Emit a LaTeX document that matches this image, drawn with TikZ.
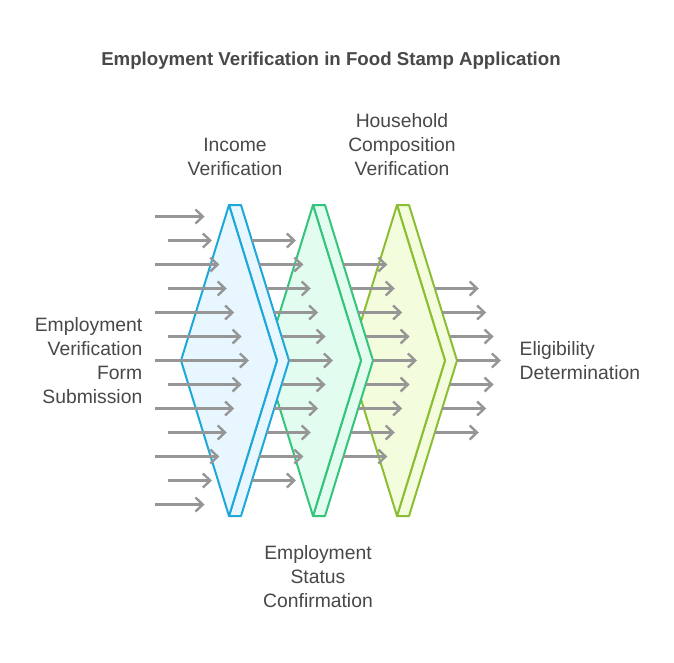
\documentclass[tikz,border=0pt]{standalone}
\usepackage{fontspec}
\setmainfont{Liberation Sans}
\usetikzlibrary{arrows.meta,positioning}

\definecolor{arrowgray}{RGB}{150,150,150}
\definecolor{textgray}{RGB}{72,72,72}
\definecolor{incomeline}{RGB}{30,168,218}
\definecolor{incomefill}{RGB}{232,247,255}
\definecolor{statusline}{RGB}{52,196,124}
\definecolor{statusfill}{RGB}{226,253,240}
\definecolor{houseline}{RGB}{140,190,52}
\definecolor{housefill}{RGB}{243,253,221}

% one layer: #1 top x, #2 fill, #3 line
\newcommand{\layer}[3]{%
  \draw[layer, draw=#3, fill=#2] (#1,205) -- ++(12,0) -- ++(48,155.5)
    -- ++(-48,155.5) -- ++(-12,0) -- ++(48,-155.5) -- cycle;
  \draw[layer, draw=#3, fill=#2] (#1,205) -- ++(-48,155.5)
    -- ++(48,155.5) -- ++(48,-155.5) -- cycle;
}

\begin{document}
\begin{tikzpicture}[x=0.75pt, y=-0.75pt,
    layer/.style={line width=1.5pt, line join=round},
    flow/.style={draw=arrowgray, line width=1.8pt,
      -{Straight Barb[length=5.5pt, width=10.5pt]}},
    label/.style={text=textgray, font=\fontsize{14.5}{18}\selectfont}]
  \useasboundingbox[fill=white] (0,0) rectangle (674,662);

  % layers, back to front
  \layer{397}{housefill}{houseline}
  \layer{313}{statusfill}{statusline}
  \layer{229}{incomefill}{incomeline}

  % arrows
  \foreach \s in {0,...,3}{
    \pgfmathtruncatemacro\last{12-\s}
    \foreach \k in {\s,...,\last}{
      \pgfmathsetmacro\tip{249+84*\s-7.41*abs(\k-6)}
      \pgfmathsetmacro\start{ifthenelse(\s==0, 155+13*mod(\k,2), \tip-44)}
      \coordinate (a\s-\k) at (\start, 216.5+24*\k);
      \coordinate (b\s-\k) at (\tip, 216.5+24*\k);
      \draw[flow] (a\s-\k) -- (b\s-\k);
    }
  }

  % labels
  \node[text=textgray, font=\bfseries\fontsize{14}{16}\selectfont] (title) at (331,61)
    {Employment Verification in Food Stamp Application};
  \node[label, align=center] (income) at (235,157) {Income\\Verification};
  \node[label, align=center] (house) at (402,145) {Household\\Composition\\Verification};
  \node[label, align=right, anchor=east] (form) at (147,361)
    {Employment\\Verification\\Form\\Submission};
  \node[label, align=left, anchor=west] (elig) at (515,361)
    {Eligibility\\Determination};
  \node[label, align=center] (status) at (318,577)
    {Employment\\Status\\Confirmation};
\end{tikzpicture}
\end{document}
